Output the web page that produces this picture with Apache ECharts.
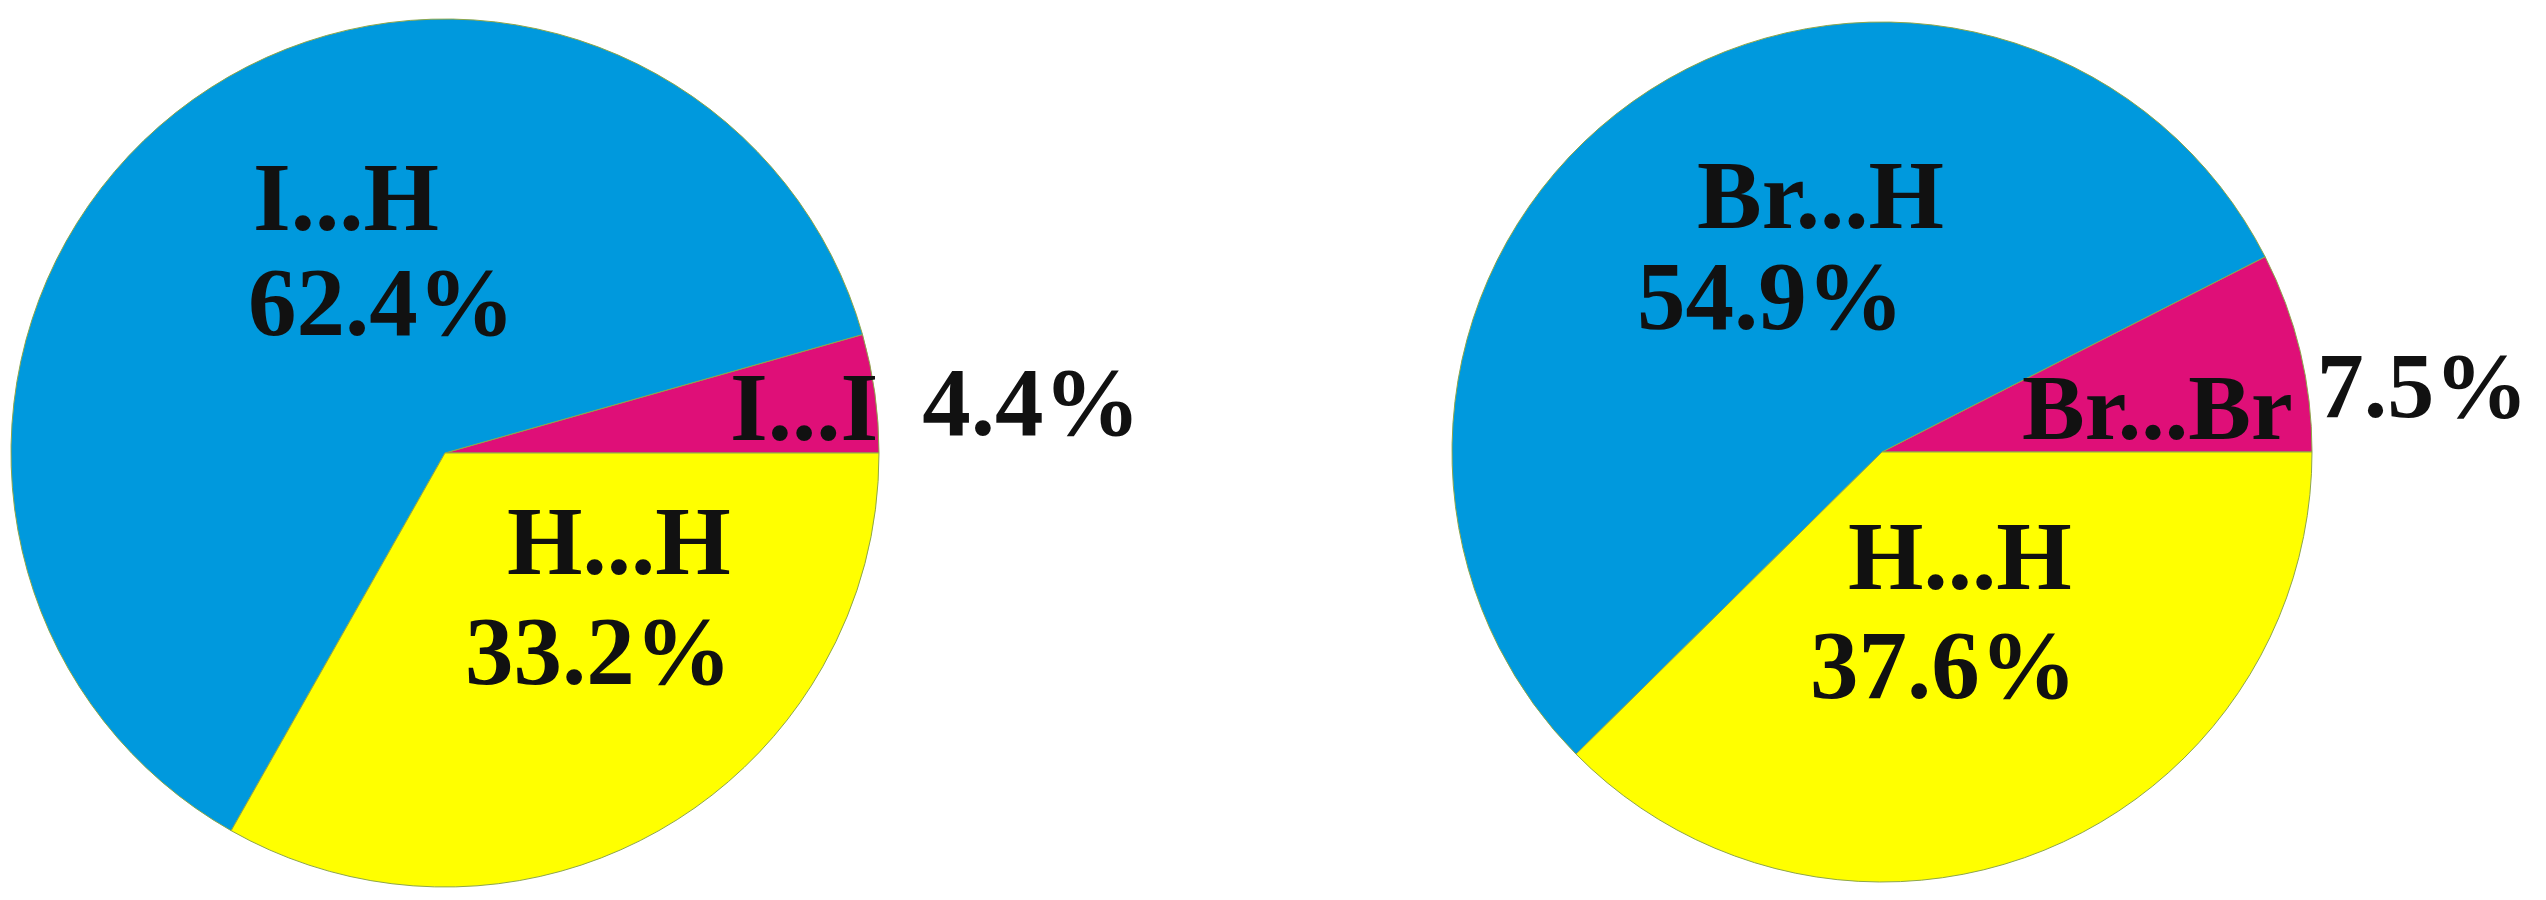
<!DOCTYPE html>
<html>
<head>
<meta charset="utf-8">
<title>Contact contributions</title>
<script src="https://cdn.jsdelivr.net/npm/echarts@6/dist/echarts.min.js"></script>
<style>
  html, body { margin: 0; padding: 0; background: #ffffff; }
  #chart { width: 2546px; height: 900px; }
</style>
</head>
<body>
<div id="chart"></div>
<script>
// data (percent of contacts)
const leftNames = ["I...I", "I...H", "H...H"];
const leftValues = [4.4, 62.4, 33.2];
const rightNames = ["Br...Br", "Br...H", "H...H"];
const rightValues = [7.5, 54.9, 37.6];
const sliceColors = ["#df0f78", "#0099dd", "#ffff00"];

// where each label box sits (top-left), and small per-line tweaks
const labelSpots = [
  [
    { x: 730, y: 361, gap: 44, rise: 5 },
    { x: 248, y: 152, indent: 5, lineHeight: 105 },
    { x: 465, y: 494, indent: 42, lineHeight: 110 },
  ],
  [
    { x: 2022, y: 361, gap: 24, rise: 22, size: 94 },
    { x: 1637, y: 152, indent: 60, lineHeight: 101 },
    { x: 1810, y: 509, indent: 38, lineHeight: 109 },
  ],
];

const FONT = "'Liberation Serif', 'Times New Roman', serif";

function buildData(names, values, spots) {
  return names.map((name, i) => {
    const s = spots[i];
    const base = {
      fontFamily: FONT,
      fontWeight: "bold",
      color: "#111111",
      fontSize: s.size || 97,
      lineHeight: s.lineHeight || 107,
    };
    let rich;
    if (s.gap !== undefined) {
      rich = {
        n: { ...base },
        v: { ...base, padding: [0, 0, s.rise * 2, s.gap] },
      };
    } else {
      rich = {
        n: { ...base, padding: [0, 0, 0, s.indent] },
        v: { ...base },
      };
    }
    return {
      name: name,
      value: values[i],
      itemStyle: { color: sliceColors[i] },
      label: { rich: rich },
    };
  });
}

function labelText(params, spots) {
  const s = spots[params.dataIndex];
  if (s.gap !== undefined) {
    return `{n|${params.name}}{v|${params.value}%}`;
  }
  return `{n|${params.name}}\n{v|${params.value}%}`;
}

function pieSeries(idx, names, values, center, radius) {
  return {
    type: "pie",
    center: center,
    radius: radius,
    startAngle: 0,
    clockwise: false,
    avoidLabelOverlap: false,
    animation: false,
    itemStyle: { borderColor: "#8ea64a", borderWidth: 1 },
    emphasis: { disabled: true },
    label: {
      show: true,
      position: "inside",
      formatter: (p) => labelText(p, labelSpots[idx]),
    },
    labelLine: { show: false },
    labelLayout: (p) => {
      const s = labelSpots[idx][p.dataIndex];
      return { x: s.x, y: s.y, align: "left", verticalAlign: "top" };
    },
    data: buildData(names, values, labelSpots[idx]),
  };
}

const chart = echarts.init(document.getElementById("chart"));
const option = {
  backgroundColor: "#ffffff",
  animation: false,
  series: [
    pieSeries(0, leftNames, leftValues, [445, 453], 434),
    pieSeries(1, rightNames, rightValues, [1882, 452], 430),
  ],
};
chart.setOption(option);
</script>
</body>
</html>
